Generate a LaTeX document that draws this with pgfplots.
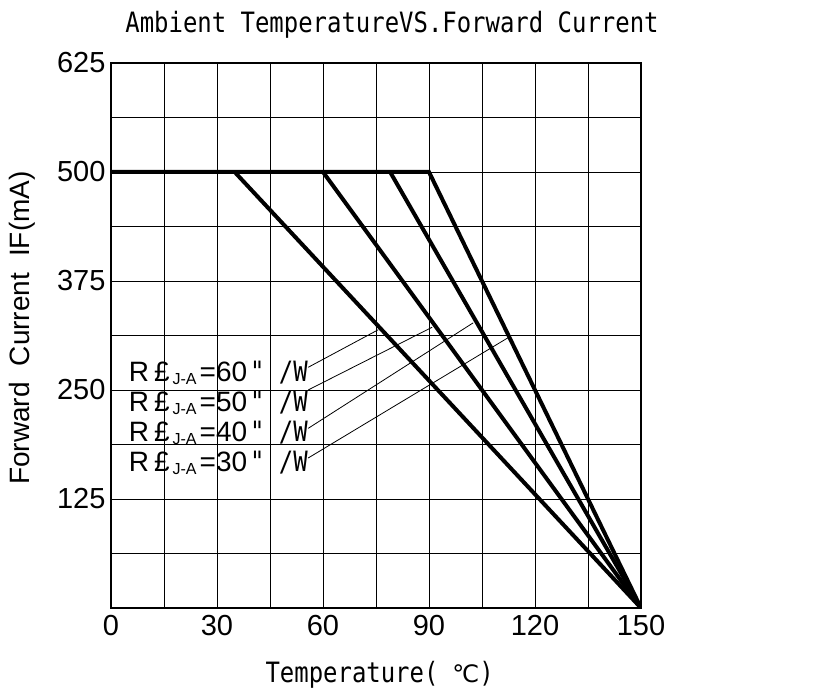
\documentclass[border=0pt]{standalone}
\usepackage{fontspec}
\setmainfont{Liberation Sans}
\newfontfamily\monofont{DejaVu Sans Mono}[FakeStretch=0.855]
\newfontfamily\symfont{DejaVu Sans}
\usepackage{pgfplots}
\pgfplotsset{compat=1.18}
\newcommand\rlabel[1]{R\hspace{5pt}£\hspace{3pt}\raisebox{-3pt}{\fontsize{16}{16}\selectfont J-A}\hspace{3pt}=#1\hspace{3pt}{\monofont " /W}}
\begin{document}
\begin{tikzpicture}
\fill[white] (-111pt,-87pt) rectangle (706pt,608pt);
\begin{axis}[
  at={(0,0)}, anchor=south west,
  width=530pt, height=545pt, scale only axis,
  xmin=0, xmax=150, ymin=0, ymax=625,
  xtick={0,30,...,150}, ytick={125,250,...,625},
  minor xtick={15,45,...,135}, minor ytick={62.5,187.5,...,562.5},
  grid=both,
  major grid style={black, line width=0.9pt},
  minor grid style={black, line width=0.9pt},
  major tick length=0pt, minor tick length=0pt,
  axis line style={black, line width=1.1pt},
  /pgf/number format/assume math mode=true,
  tick label style={font=\fontsize{29}{29}\selectfont},
  xticklabel style={yshift=-4pt},
  yticklabel style={xshift=-2pt},
]
\addplot[black, line width=4pt] coordinates {(0,500) (90,500) (150,0)};
\addplot[black, line width=4pt] coordinates {(35,500) (150,0)};
\addplot[black, line width=4pt] coordinates {(60,500) (150,0)};
\addplot[black, line width=4pt] coordinates {(79,500) (150,0)};
% leader lines
\addplot[black, line width=0.8pt] coordinates {(55.8,276) (75.6,319)};
\addplot[black, line width=0.8pt] coordinates {(55.8,250) (90.9,322)};
\addplot[black, line width=0.8pt] coordinates {(55.8,206) (102.5,327)};
\addplot[black, line width=0.8pt] coordinates {(55.8,172) (112.4,310)};
\end{axis}
\node[anchor=base, font=\monofont\fontsize{28}{28}\selectfont] at (281pt,575pt) {Ambient TemperatureVS.Forward Current};
\node[anchor=base west, font=\monofont\fontsize{28}{28}\selectfont] at (151pt,-75pt) {Temperature(\hspace{14pt}{\symfont\fontsize{24}{24}\selectfont ℃})};
\node[rotate=90, anchor=center, font=\fontsize{28}{28}\selectfont] at (-89pt,280pt) {Forward\hspace{16pt}Current\hspace{16pt}IF(mA)};
\node[anchor=base east, font=\fontsize{28}{28}\selectfont, inner sep=0pt] at (197pt,226pt) {\rlabel{60}};
\node[anchor=base east, font=\fontsize{28}{28}\selectfont, inner sep=0pt] at (197pt,196pt) {\rlabel{50}};
\node[anchor=base east, font=\fontsize{28}{28}\selectfont, inner sep=0pt] at (197pt,166pt) {\rlabel{40}};
\node[anchor=base east, font=\fontsize{28}{28}\selectfont, inner sep=0pt] at (197pt,136pt) {\rlabel{30}};
\pgfresetboundingbox
\path[use as bounding box] (-111pt,-87pt) rectangle (706pt,608pt);
\end{tikzpicture}
\end{document}
